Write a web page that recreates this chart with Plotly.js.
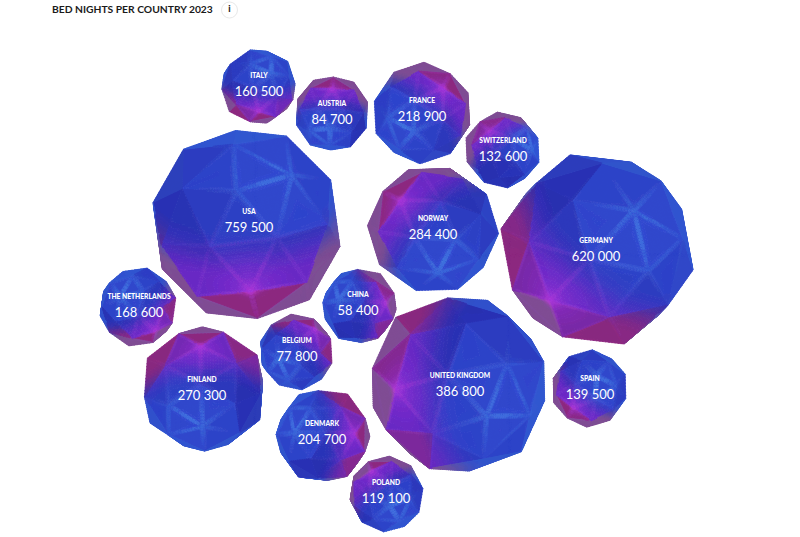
<!DOCTYPE html>
<html><head><meta charset="utf-8">
<script src="https://cdn.plot.ly/plotly-3.0.1.min.js"></script>
<style>html,body{margin:0;padding:0;background:#fff}#chart{width:800px;height:537px}</style>
</head><body><div id="chart"></div>
<script>
const countries=["ITALY","AUSTRIA","FRANCE","SWITZERLAND","USA","NORWAY","GERMANY","THE NETHERLANDS","CHINA","BELGIUM","FINLAND","UNITED KINGDOM","SPAIN","DENMARK","POLAND"];
const bedNights=[160500,84700,218900,132600,759500,284400,620000,168600,58400,77800,270300,386800,139500,204700,119100];
const centreX=[258.5,332,422,502.5,246.5,433,597,138,359.5,296.5,203.5,458.5,589.5,323,386.5];
const centreY=[86.5,113.5,113,150,224.5,229.5,249.5,307,306,352,389,384.5,388.5,435.5,494];
const ballR=[38.5,38.5,51,38.5,99,66,99,40,38.5,38.5,64.5,92,39,48.5,38.5];
const labelX=[259,332,422,503,249,433,596,139,358,297,202,460,590,322,386];
const labelY=[76,104,101,141,212,219,241,297,295,341,380,376,379,424,483];
const hotX=[0,0,.42,-.35,.04,-.5,-.48,.45,.7,.5,-.05,-.69,-.42,.66,-.4];
const hotY=[.65,-.65,-.5,-.5,.68,-.45,.52,.6,-.08,-.6,-.67,.05,.5,-.04,-.6];
const coolX=[.22,-.24,-.4,.7,.24,.18,.49,-.3,-.58,-.42,-.25,.52,.35,-.6,.28];
const coolY=[-.55,.52,.3,-.2,-.53,.5,-.18,-.45,-.38,.4,.52,.24,-.15,-.3,.42];
const titleText="BED NIGHTS PER COUNTRY 2023";

// ---- vector helpers
const dot=(a,b)=>a[0]*b[0]+a[1]*b[1]+a[2]*b[2];
const cross=(a,b)=>[a[1]*b[2]-a[2]*b[1],a[2]*b[0]-a[0]*b[2],a[0]*b[1]-a[1]*b[0]];
const norm=a=>{const l=Math.hypot(a[0],a[1],a[2]);return [a[0]/l,a[1]/l,a[2]/l];};
const mix=(a,b,t)=>[a[0]+(b[0]-a[0])*t,a[1]+(b[1]-a[1])*t,a[2]+(b[2]-a[2])*t];
const sstep=(e0,e1,x)=>{const t=Math.min(1,Math.max(0,(x-e0)/(e1-e0)));return t*t*(3-2*t);};
const ang=(a,b)=>Math.acos(Math.max(-1,Math.min(1,dot(a,b))));

// ---- pentakis dodecahedron from the icosahedron
const G=(1+Math.sqrt(5))/2;
const ico=[[-1,G,0],[1,G,0],[-1,-G,0],[1,-G,0],[0,-1,G],[0,1,G],[0,-1,-G],[0,1,-G],[G,0,-1],[G,0,1],[-G,0,-1],[-G,0,1]].map(norm);
const icoFaces=[],edgeMap={};
const EL=2/Math.sqrt(1+G*G)*1.01;
const near=(i,j)=>Math.hypot(ico[i][0]-ico[j][0],ico[i][1]-ico[j][1],ico[i][2]-ico[j][2])<EL;
for(let i=0;i<12;i++)for(let j=i+1;j<12;j++)for(let k=j+1;k<12;k++)if(near(i,j)&&near(j,k)&&near(i,k))icoFaces.push([i,j,k]);
const dod=icoFaces.map(f=>{const s=norm([0,1,2].map(c=>ico[f[0]][c]+ico[f[1]][c]+ico[f[2]][c]));return s.map(v=>v*0.97);});
icoFaces.forEach((f,fi)=>{[[f[0],f[1]],[f[1],f[2]],[f[0],f[2]]].forEach(e=>{const k=e.join("-");(edgeMap[k]=edgeMap[k]||{e,f:[]}).f.push(fi);});});
const tris=[];
Object.values(edgeMap).forEach(o=>{o.e.forEach(a=>tris.push([ico[a],dod[o.f[0]],dod[o.f[1]]]));});
const allVerts=ico.concat(dod.map(norm));

function rotBetween(a,b){
  const v=cross(a,b),c=dot(a,b),k=1/(1+c);
  return [[v[0]*v[0]*k+c,v[0]*v[1]*k-v[2],v[0]*v[2]*k+v[1]],
          [v[1]*v[0]*k+v[2],v[1]*v[1]*k+c,v[1]*v[2]*k-v[0]],
          [v[2]*v[0]*k-v[1],v[2]*v[1]*k+v[0],v[2]*v[2]*k+c]];
}
const mul=(m,p)=>[dot(m[0],p),dot(m[1],p),dot(m[2],p)];
function spin(p,axis,t){const c=Math.cos(t),s=Math.sin(t),x=cross(axis,p),d=dot(axis,p);
  return [p[0]*c+x[0]*s+axis[0]*d*(1-c),p[1]*c+x[1]*s+axis[1]*d*(1-c),p[2]*c+x[2]*s+axis[2]*d*(1-c)];}
const onSphere=(x,y)=>norm([x,y,Math.sqrt(Math.max(.02,1-x*x-y*y))]);

// ---- palette
const BLUE_D=[40,46,176],BLUE_L=[46,70,204],PURPLE=[104,40,196],CRIMSON=[138,38,126],MAUVE=[126,78,146],
      GLOW=[200,58,222],EDGE_C=[72,142,232],EDGE_H=[170,58,214],RIM_C=[54,104,220];

function shade(n,N,minb,h,c,hu,pxPerUnit){
  const a=ang(n,h),ac=ang(n,c);
  const rad=Math.hypot(n[0],n[1]);
  const q=n[0]*hu[0]+n[1]*hu[1]+0.3*rad*rad*rad;
  const t=sstep(.02,.72,q);
  let col=mix(BLUE_D,BLUE_L,sstep(.3,1.0,dot(N,c)));
  if(N[2]<.42) col=mix(col,RIM_C,.6*(1-sstep(.2,.42,N[2])));
  const hotc=N[2]<.37?MAUVE:mix(CRIMSON,PURPLE,sstep(.45,.62,N[2]));
  col=mix(col,hotc,t);
  col=mix(col,GLOW,.7*Math.exp(-Math.pow(a/.09,2)));
  col=mix(col,[148,46,216],.45*Math.exp(-Math.pow(a/.34,2))*(N[2]>.45?1:.15));
  const d=minb*pxPerUnit;
  const e=Math.exp(-Math.pow(d/1.7,2)),w=Math.exp(-d/(pxPerUnit*.2));
  col=mix(col,EDGE_H,e*.5*Math.exp(-Math.pow(a/.6,2)));
  col=mix(col,[54,92,218],w*.3*Math.exp(-Math.pow(ac/.6,2)));
  col=mix(col,EDGE_C,e*.7*Math.exp(-Math.pow(ac/.4,2)));
  return col;
}

// ---- facets become small filled cells, grouped by colour
const STEP=4,buckets={};
function addCell(key,xy){const b=buckets[key]||(buckets[key]={x:[],y:[]});
  xy.forEach(p=>{b.x.push(p[0]);b.y.push(p[1]);});b.x.push(xy[0][0],null);b.y.push(xy[0][1],null);}

countries.forEach((name,i)=>{
  const h=onSphere(hotX[i],hotY[i]),c=onSphere(coolX[i],coolY[i]);
  const hl=Math.hypot(h[0],h[1])||1,hu=[h[0]/hl,h[1]/hl];
  const R0=rotBetween(ico[0],h);
  let best=0,bestD=9;
  for(let s=0;s<72;s+=1){const t=s*Math.PI/180;
    allVerts.forEach(v=>{const d=ang(spin(mul(R0,v),h,t),c);if(d<bestD&&d>.25){bestD=d;best=t;}});}
  const r=ballR[i];
  const nSub=Math.max(6,Math.round(r*.66/3.2));
  tris.forEach(tr=>{
    const P=tr.map(v=>{const m=mul(R0,v);return spin(m,h,best);});
    let N=norm(cross([P[1][0]-P[0][0],P[1][1]-P[0][1],P[1][2]-P[0][2]],[P[2][0]-P[0][0],P[2][1]-P[0][1],P[2][2]-P[0][2]]));
    const ctr=norm([P[0][0]+P[1][0]+P[2][0],P[0][1]+P[1][1]+P[2][1],P[0][2]+P[1][2]+P[2][2]]);
    if(dot(N,ctr)<0)N=[-N[0],-N[1],-N[2]];
    if(N[2]<=.01)return;
    const at=(a,b)=>{const g=1-a-b;return [P[0][0]*a+P[1][0]*b+P[2][0]*g,P[0][1]*a+P[1][1]*b+P[2][1]*g,P[0][2]*a+P[1][2]*b+P[2][2]*g];};
    const sc=p=>[centreX[i]+r*p[0],centreY[i]+r*p[1]];
    const cell=(A,B,C)=>{
      const a=(A[0]+B[0]+C[0])/3,b=(A[1]+B[1]+C[1])/3,g=1-a-b;
      const mid=at(a,b);
      const col=shade(norm(mid),N,Math.min(a,b,g),h,c,hu,r*.66*.87);
      const key=col.map(v=>Math.round(v/STEP)*STEP).join(",");
      addCell(key,[A,B,C].map(q=>sc(at(q[0],q[1]))));
    };
    for(let u=0;u<nSub;u++)for(let v=0;v<nSub-u;v++){
      const A=[u/nSub,v/nSub],B=[(u+1)/nSub,v/nSub],C=[u/nSub,(v+1)/nSub];
      cell(A,B,C);
      if(u+v<nSub-1)cell(B,[(u+1)/nSub,(v+1)/nSub],C);
    }
  });
});

const traces=Object.keys(buckets).map(k=>({type:"scatter",mode:"lines",x:buckets[k].x,y:buckets[k].y,fill:"toself",
  fillcolor:"rgb("+k+")",line:{color:"rgb("+k+")",width:.7,simplify:false},hoverinfo:"skip",showlegend:false}));

const fmt=v=>String(v).replace(/\B(?=(\d{3})+$)/g," ");
traces.push({type:"scatter",mode:"text",x:labelX,y:labelY,text:countries,hoverinfo:"skip",showlegend:false,
  textposition:"middle center",textfont:{family:"Lato",size:6.7,weight:900,color:"#ffffff"}});
traces.push({type:"scatter",mode:"text",x:labelX,y:labelY.map(v=>v+17),text:bedNights.map(fmt),hoverinfo:"skip",showlegend:false,
  textposition:"middle center",textfont:{family:"Lato",size:13,weight:400,color:"#ffffff"}});
traces.push({type:"scatter",mode:"markers+text",x:[229.5],y:[10],text:["i"],textposition:"middle center",hoverinfo:"skip",showlegend:false,
  marker:{symbol:"circle-open",size:16,color:"#e8e8e8",line:{width:1,color:"#e8e8e8"}},textfont:{family:"Lato",size:9,weight:900,color:"#222"}});

const layout={width:800,height:537,margin:{l:0,r:0,t:0,b:0},paper_bgcolor:"#fff",plot_bgcolor:"#fff",showlegend:false,
  xaxis:{range:[0,800],visible:false,fixedrange:true},yaxis:{range:[537,0],visible:false,fixedrange:true},
  title:{text:"<b>"+titleText+"</b>",x:52/800,xanchor:"left",y:1-9.5/537,yanchor:"middle",automargin:false,font:{family:"Lato",size:10.3,color:"#1a1a1a",weight:900}}};
Plotly.newPlot("chart",traces,layout,{displayModeBar:false,staticPlot:true});
</script></body></html>
